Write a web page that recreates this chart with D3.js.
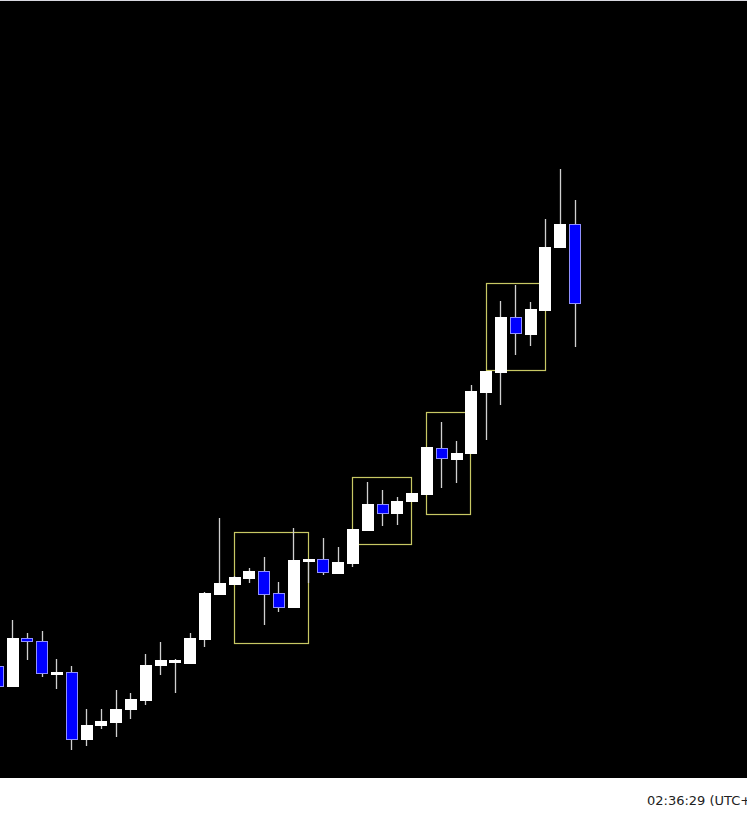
<!DOCTYPE html>
<html><head><meta charset="utf-8">
<script src="https://cdn.jsdelivr.net/npm/d3@7"></script>
<style>html,body{margin:0;padding:0;background:#fff;overflow:hidden}</style>
</head><body>
<svg id="chart" width="747" height="820"></svg>
<script>
// OHLC series (bar index = position on the time axis)
const opens  = [2011.2,2009.2,2014.0,2013.7,2010.4,2010.6,2003.9,2005.3,2005.6,2006.9,2007.8,2011.3,2011.6,2011.5,2013.9,2018.4,2019.4,2020.0,2020.7,2018.5,2017.1,2021.7,2021.9,2020.5,2021.5,2024.8,2027.4,2026.5,2027.7,2028.4,2033.0,2031.9,2032.5,2038.6,2040.6,2046.1,2044.4,2046.8,2053.1,2055.4];
const highs  = [2011.4,2015.8,2014.5,2014.7,2011.9,2011.2,2006.9,2006.9,2008.8,2008.5,2012.4,2013.6,2011.9,2014.5,2018.6,2026.0,2020.2,2021.0,2022.1,2019.6,2025.0,2021.9,2024.0,2023.1,2024.9,2029.6,2028.8,2028.1,2028.5,2033.1,2035.6,2033.7,2039.3,2040.7,2047.7,2049.3,2047.6,2055.9,2060.9,2057.8];
const lows   = [2009.0,2009.2,2011.8,2010.1,2008.9,2002.8,2003.2,2004.9,2004.1,2005.9,2007.3,2010.3,2008.5,2011.5,2013.1,2018.4,2019.3,2019.5,2015.3,2016.6,2017.1,2019.5,2020.3,2020.5,2021.1,2024.8,2025.2,2025.3,2027.7,2028.4,2029.0,2029.5,2032.5,2033.8,2037.3,2042.3,2043.2,2046.8,2053.1,2043.1];
const closes = [2009.2,2014.0,2013.7,2010.5,2010.6,2003.9,2005.3,2005.7,2006.9,2007.9,2011.3,2011.8,2011.8,2014.0,2018.5,2019.5,2020.1,2020.7,2018.4,2017.1,2021.8,2021.9,2020.6,2021.6,2024.9,2027.4,2026.5,2027.7,2028.5,2033.1,2032.0,2032.5,2038.7,2040.7,2046.1,2044.5,2046.9,2053.1,2055.4,2047.5];
// highlighted zones: [first bar, last bar, top price, bottom price]
const zoneStart = [16, 24, 29, 33];
const zoneEnd   = [21, 28, 32, 37];
const zoneTop   = [2024.6, 2030.1, 2036.6, 2049.5];
const zoneBot   = [2013.5, 2023.4, 2026.4, 2040.8];
const clockLabel = "02:36:29 (UTC+";

const svg = d3.select("#chart");
const W = 747, H = 820, plotH = 778;

svg.append("rect").attr("x",0).attr("y",0).attr("width",W).attr("height",H).attr("fill","#ffffff");
svg.append("rect").attr("x",0).attr("y",0).attr("width",W).attr("height",plotH).attr("fill","#000000");
svg.append("line").attr("x1",0).attr("x2",W).attr("y1",0.5).attr("y2",0.5).attr("stroke","#d8d8e0");

const x = d3.scaleLinear().domain([0, 39]).range([-2.8, 574.5]);
const y = d3.scaleLinear().domain([2000, 2077.8]).range([plotH, 0]);

const bars = opens.map((o,i)=>({i, o, h:highs[i], l:lows[i], c:closes[i]}));
const bw = 11;
const px = v => Math.round(v) + 0.5;

const g = svg.append("g");

// zones
const zones = zoneStart.map((s,k)=>({s, e:zoneEnd[k], t:zoneTop[k], b:zoneBot[k]}));
g.selectAll(".zone").data(zones).join("rect")
  .attr("x", d=>px(x(d.s))).attr("y", d=>px(y(d.t)))
  .attr("width", d=>Math.round(x(d.e)-x(d.s))).attr("height", d=>Math.round(y(d.b)-y(d.t)))
  .attr("fill","none").attr("stroke","#c8c864").attr("stroke-width",1.2);

// wicks
g.selectAll(".wick").data(bars).join("line")
  .attr("x1", d=>px(x(d.i))).attr("x2", d=>px(x(d.i)))
  .attr("y1", d=>Math.round(y(d.h))).attr("y2", d=>Math.round(y(d.l)))
  .attr("stroke","#d0d0d0").attr("stroke-width",1.3);

// bodies
g.selectAll(".body").data(bars).join("rect")
  .attr("x", d=>Math.round(x(d.i)-bw/2)+0.5)
  .attr("y", d=>Math.round(y(Math.max(d.o,d.c)))+0.5)
  .attr("width", bw)
  .attr("height", d=>Math.max(1, Math.round(Math.abs(y(d.o)-y(d.c)))))
  .attr("fill", d=> d.c >= d.o ? "#ffffff" : "#0000ff")
  .attr("stroke", d=> d.c >= d.o ? "#ffffff" : "#9090ff")
  .attr("stroke-width",1);

svg.append("text").attr("x",647).attr("y",805)
  .attr("font-family","DejaVu Sans, sans-serif").attr("font-size",13)
  .attr("fill","#222").text(clockLabel);
</script>
</body></html>
